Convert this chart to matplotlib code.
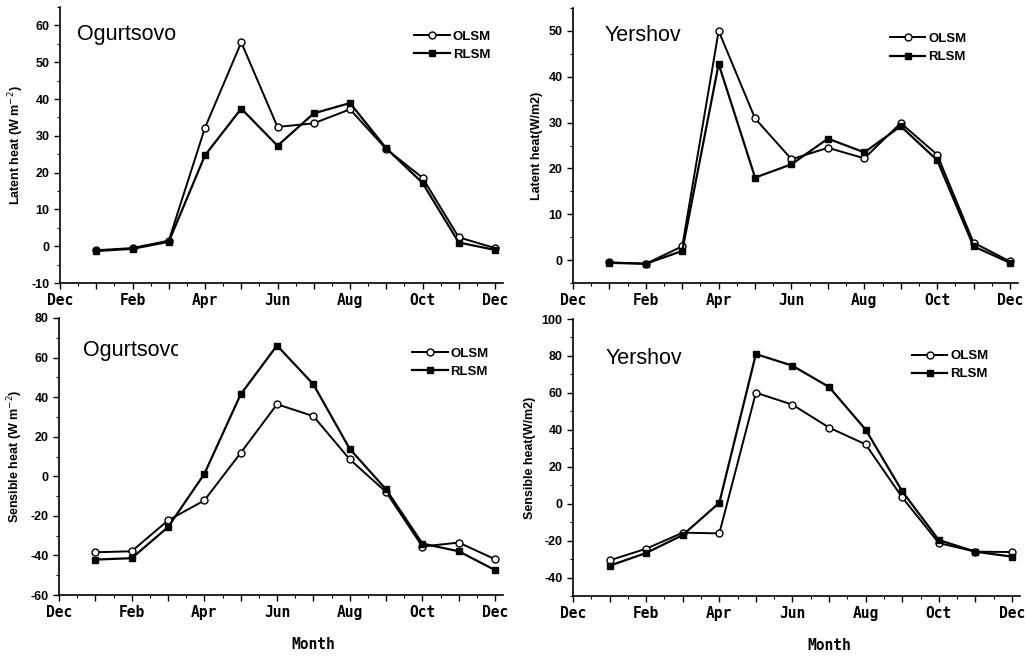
import numpy as np
import matplotlib
matplotlib.use("Agg")
import matplotlib.pyplot as plt
from matplotlib.ticker import MultipleLocator, FixedLocator, FuncFormatter
from matplotlib.transforms import Bbox, TransformedBbox

plt.rcParams["axes.unicode_minus"] = False

months = np.arange(1, 13)
month_tick_pos = [0, 2, 4, 6, 8, 10, 12]
month_tick_labels = ["Dec", "Feb", "Apr", "Jun", "Aug", "Oct", "Dec"]

lat_ogu_olsm = [-1.1, -0.5, 1.5, 32.2, 55.4, 32.4, 33.4, 37.2, 26.4, 18.6, 2.4, -0.5]
lat_ogu_rlsm = [-1.3, -0.7, 1.2, 24.7, 37.4, 27.3, 36.1, 38.9, 26.6, 17.2, 1.0, -1.0]

lat_yer_olsm = [-0.5, -0.8, 3.0, 50.0, 30.9, 22.0, 24.5, 22.2, 29.9, 23.0, 3.8, -0.3]
lat_yer_rlsm = [-0.6, -0.8, 2.0, 42.8, 18.0, 20.9, 26.5, 23.5, 29.2, 21.8, 3.0, -0.6]

sen_ogu_olsm = [-38.4, -37.9, -22.3, -12.2, 11.8, 36.4, 30.4, 8.6, -7.9, -35.5, -33.5, -41.9]
sen_ogu_rlsm = [-42.1, -41.4, -25.7, 1.2, 41.4, 66.1, 46.5, 13.9, -6.6, -34.0, -37.9, -47.4]

sen_yer_olsm = [-30.7, -24.4, -15.7, -16.1, 60.1, 53.6, 41.2, 32.1, 3.4, -21.3, -26.0, -26.2]
sen_yer_rlsm = [-33.6, -26.7, -17.0, 0.5, 81.0, 74.7, 63.2, 40.1, 6.7, -19.7, -26.0, -28.7]

W, H = 1026, 656
fig = plt.figure(figsize=(W / 100, H / 100), dpi=100)

def frac(l, r, t, b):
    return [l / W, (H - b) / H, (r - l) / W, (b - t) / H]

tickfont = dict(family="Liberation Sans", weight="bold", size=9)
xfont = dict(family="DejaVu Sans Mono", weight="bold", size=10.5)

panels = [
    dict(rect=frac(60, 503, 7, 283), olsm=lat_ogu_olsm, rlsm=lat_ogu_rlsm,
         ylim=(-10, 65), yticks=np.arange(-10, 61, 10), minor=5,
         ylabel="Latent heat (W m$^{-2}$)", station="Ogurtsovo",
         st_pos=(0.038, 0.88), leg=(0.80, 0.915), clip=None, month=False),
    dict(rect=frac(573, 1018, 8, 283), olsm=lat_yer_olsm, rlsm=lat_yer_rlsm,
         ylim=(-5, 55), yticks=np.arange(0, 51, 10), minor=5,
         ylabel="Latent heat(W/m2)", station="Yershov",
         st_pos=(0.072, 0.88), leg=(0.712, 0.91), clip=None, month=False),
    dict(rect=frac(59, 503, 318, 595), olsm=sen_ogu_olsm, rlsm=sen_ogu_rlsm,
         ylim=(-60, 80), yticks=np.arange(-60, 81, 20), minor=10,
         ylabel="Sensible heat (W m$^{-2}$)", station="Ogurtsovo",
         st_pos=(0.054, 0.863), leg=(0.795, 0.893), clip=178, month=True),
    dict(rect=frac(573, 1020, 319, 596), olsm=sen_yer_olsm, rlsm=sen_yer_rlsm,
         ylim=(-50, 100), yticks=np.arange(-40, 101, 20), minor=10,
         ylabel="Sensible heat(W/m2)", station="Yershov",
         st_pos=(0.072, 0.838), leg=(0.758, 0.888), clip=None, month=True),
]

for p in panels:
    ax = fig.add_axes(p["rect"])
    ax.plot(months, p["olsm"], color="black", lw=1.4, marker="o", ms=5,
            mfc="white", mec="black", mew=1.0, label="OLSM")
    ax.plot(months, p["rlsm"], color="black", lw=1.6, marker="s", ms=4.8,
            mfc="black", mec="black", label="RLSM")
    ax.set_xlim(0, 12.22)
    ax.set_ylim(*p["ylim"])
    for s in ("top", "right"):
        ax.spines[s].set_visible(False)
    for s in ("left", "bottom"):
        ax.spines[s].set_linewidth(1.2)
    ax.xaxis.set_major_locator(FixedLocator(np.arange(0, 13, 1)))
    ax.xaxis.set_major_formatter(FuncFormatter(
        lambda v, pos: month_tick_labels[month_tick_pos.index(int(round(v)))]
        if int(round(v)) in month_tick_pos else ""))
    ax.xaxis.set_minor_locator(MultipleLocator(0.5))
    ax.set_yticks(p["yticks"])
    ax.yaxis.set_minor_locator(MultipleLocator(p["minor"]))
    ax.tick_params(axis="both", which="major", direction="out", length=4, width=1.0)
    ax.tick_params(axis="both", which="minor", direction="out", length=2, width=0.8)
    ax.tick_params(axis="x", pad=3)
    for lab in ax.get_yticklabels():
        lab.set_fontproperties(tickfont)
    for lab in ax.get_xticklabels():
        lab.set_fontproperties(xfont)
    ax.set_ylabel(p["ylabel"], fontdict=dict(family="Liberation Sans", weight="bold", size=9),
                  labelpad=4)
    t = ax.text(p["st_pos"][0], p["st_pos"][1], p["station"], transform=ax.transAxes,
                family="Liberation Sans", fontsize=15.5, va="baseline", ha="left")
    if p["clip"] is not None:
        t.set_clip_box(TransformedBbox(Bbox([[0, 0], [p["clip"] / W, 1]]), fig.transFigure))
        t.set_clip_on(True)
    ax.legend(loc="upper left", bbox_to_anchor=p["leg"], frameon=False,
              prop=dict(family="Liberation Sans", weight="bold", size=9.5),
              handlelength=2.7, handletextpad=0.2, labelspacing=0.45,
              borderpad=0, borderaxespad=0)
    if p["month"]:
        ax.text(7.0, -0.18, "Month", transform=ax.get_xaxis_transform(),
                fontdict=xfont, ha="center", va="center")

fig.savefig("out.png", dpi=100)
